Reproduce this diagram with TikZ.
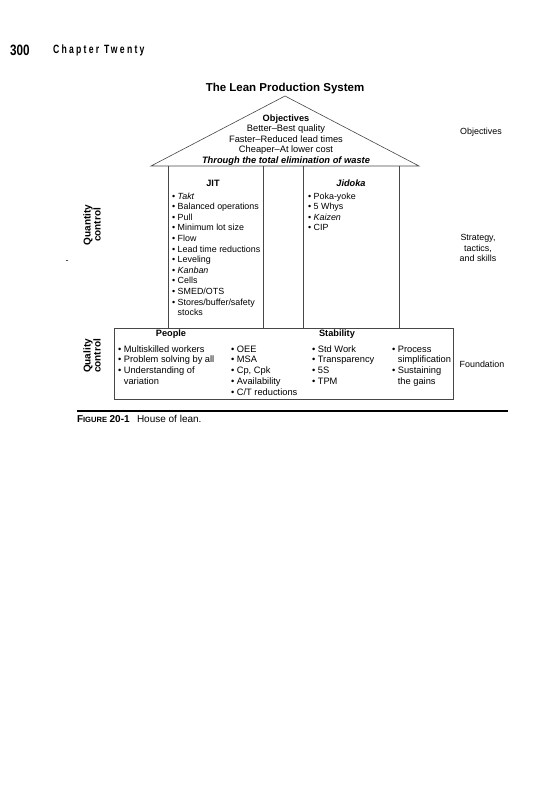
\documentclass[tikz,border=0pt]{standalone}
\usepackage{fontspec}
\setmainfont{Liberation Sans}
\newfontfamily\numfont[FakeStretch=0.78]{Liberation Sans}
\newfontfamily\chapfont[FakeStretch=0.72,LetterSpace=19]{Liberation Sans}
\newcommand\bul{\textbullet\hspace{2.6pt}}
\newcommand\nob{\phantom{\textbullet\hspace{2.6pt}}}
\begin{document}
\begin{tikzpicture}[x=1pt,y=-1pt,
  every node/.style={inner sep=0pt,outer sep=0pt},
  txt/.style={font=\fontsize{8.9}{10}\selectfont},
  big/.style={font=\fontsize{9.3}{10}\selectfont},
  item/.style={txt,anchor=base west},
  fitem/.style={big,anchor=base west},
  ctext/.style={big,anchor=base},
  hdr/.style={anchor=base,font=\fontsize{9.2}{10}\selectfont\bfseries},
  side/.style={txt,align=center,font=\fontsize{8.9}{10.8}\selectfont},
  vlab/.style={align=center,rotate=90,font=\fontsize{10}{10}\selectfont\bfseries},
  housel/.style={draw=black!72,line width=0.6pt}]
\useasboundingbox (0,0) rectangle (555,800);
\fill[white] (0,0) rectangle (555,800);

% page header
\node[anchor=base west,font=\fontsize{15}{15}\numfont\bfseries] (pnum) at (10,56) {300};
\node[anchor=base west,font=\fontsize{12}{12}\chapfont\bfseries] (chap) at (53,54) {Chapter Twenty};

% title
\node[anchor=base,font=\fontsize{11.5}{12}\selectfont\bfseries] (title) at (285,91) {The Lean Production System};

% house geometry
\coordinate (rl) at (151,166);
\coordinate (apex) at (285,96);
\coordinate (rr) at (419,166);
\draw[housel] (rl) -- (apex) -- (rr) -- cycle;
\foreach \x [count=\i] in {168,263,303,399}{
  \coordinate (ct\i) at (\x,166);
  \coordinate (cb\i) at (\x,328);
  \draw[housel] (ct\i) -- (cb\i);
}
\coordinate (fa) at (114,328);
\coordinate (fb) at (453,399);
\draw[housel] (fa) rectangle (fb);

% roof text
\node[hdr] (obj) at (286,121) {Objectives};
\node[ctext] (r1) at (286,131.5) {Better--Best quality};
\node[ctext] (r2) at (286,142) {Faster--Reduced lead times};
\node[ctext] (r3) at (286,152.5) {Cheaper--At lower cost};
\node[ctext,font=\fontsize{9.3}{10}\selectfont\bfseries\itshape] (r4) at (286,163) {Through the total elimination of waste};

% JIT column
\node[hdr] (jit) at (213,186) {JIT};
\foreach \t [count=\i] in {\bul\textit{Takt},\bul Balanced operations,\bul Pull,\bul Minimum lot size,\bul Flow,\bul Lead time reductions,\bul Leveling,\bul\textit{Kanban},\bul Cells,\bul SMED/OTS,\bul Stores/buffer/safety,\nob stocks}
  \node[item] (jit\i) at (172,{199+(\i-1)*10.6}) {\t};

% Jidoka column
\node[hdr,font=\fontsize{9.2}{10}\selectfont\bfseries\itshape] (jid) at (351,186) {Jidoka};
\foreach \t [count=\i] in {\bul Poka-yoke,\bul 5 Whys,\bul\textit{Kaizen},\bul CIP}
  \node[item] (jid\i) at (308,{199+(\i-1)*10.6}) {\t};

% foundation
\node[hdr] (people) at (171,336) {People};
\node[hdr] (stab) at (337,336) {Stability};
\foreach \t [count=\i] in {\bul Multiskilled workers,\bul Problem solving by all,\bul Understanding of,\nob variation}
  \node[fitem] (fa\i) at (118,{352+(\i-1)*10.9}) {\t};
\foreach \t [count=\i] in {\bul OEE,\bul MSA,{\bul Cp, Cpk},\bul Availability,\bul C/T reductions}
  \node[fitem] (fb\i) at (231,{352+(\i-1)*10.9}) {\t};
\foreach \t [count=\i] in {\bul Std Work,\bul Transparency,\bul 5S,\bul TPM}
  \node[fitem] (fc\i) at (312,{352+(\i-1)*10.9}) {\t};
\foreach \t [count=\i] in {\bul Process,\nob simplification,\bul Sustaining,\nob the gains}
  \node[fitem] (fd\i) at (392,{352+(\i-1)*10.9}) {\t};

% left labels
\node[vlab] (qc) at (92,225) {Quantity\\control};
\node[txt] (dash) at (67,262) {-};
\node[vlab] (qlc) at (92,356) {Quality\\control};

% right labels
\node[side] (sobj) at (481,132) {Objectives};
\node[side] (sstr) at (478,248) {Strategy,\\tactics,\\and skills};
\node[side] (sfound) at (482,364) {Foundation};

% caption
\coordinate (rulea) at (77,411);
\coordinate (ruleb) at (508,411);
\draw[line width=1.3pt] (rulea) -- (ruleb);
\node[anchor=base west,font=\bfseries] (figlab) at (77,422) {{\fontsize{10}{10}\selectfont F}{\fontsize{7.6}{10}\selectfont IGURE}\hspace{2.5pt}{\fontsize{10}{10}\selectfont 20-1}};
\node[anchor=base west,font=\fontsize{10}{10}\selectfont] (figcap) at (137,422) {House of lean.};
\end{tikzpicture}
\end{document}
